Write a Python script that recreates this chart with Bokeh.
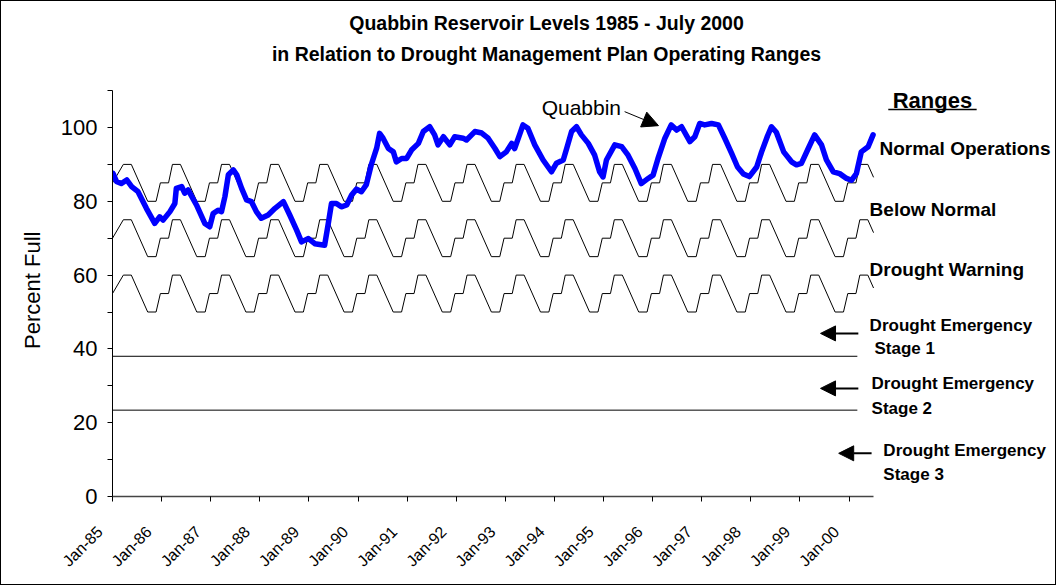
import math
from bokeh.plotting import figure
from bokeh.models import Range1d, FixedTicker, Label, Arrow, NormalHead, LinearAxis
from bokeh.embed import file_html
from bokeh.resources import INLINE

FONT = "Liberation Sans"

TITLE_LINES = ["Quabbin Reservoir Levels 1985 - July 2000",
               "in Relation to Drought Management Plan Operating Ranges"]
Y_AXIS_TITLE = "Percent Full"
YEARS = list(range(1985, 2001))
X_TICK_LABELS = ["Jan-85", "Jan-86", "Jan-87", "Jan-88", "Jan-89", "Jan-90", "Jan-91", "Jan-92",
                 "Jan-93", "Jan-94", "Jan-95", "Jan-96", "Jan-97", "Jan-98", "Jan-99", "Jan-00"]
Y_LABEL_TICKS = [0, 20, 40, 60, 80, 100]
Y_MINOR_TICKS = [10, 30, 50, 70, 90, 110]

# Quabbin reservoir level (% full) (decimal year, value)
QUABBIN_T = [1985.01, 1985.08, 1985.18, 1985.29, 1985.39, 1985.52, 1985.69, 1985.86, 1985.96,
             1986.03, 1986.17, 1986.27, 1986.30, 1986.41, 1986.47, 1986.54, 1986.71, 1986.88, 1986.98,
             1987.05, 1987.15, 1987.22, 1987.29, 1987.36, 1987.46, 1987.53, 1987.63, 1987.73, 1987.83, 1987.93,
             1988.03, 1988.17, 1988.31, 1988.48, 1988.61, 1988.75, 1988.85, 1988.99,
             1989.12, 1989.32, 1989.39, 1989.46, 1989.56, 1989.66, 1989.77, 1989.87, 1989.97,
             1990.07, 1990.17, 1990.27, 1990.38, 1990.44, 1990.51, 1990.62, 1990.72, 1990.78, 1990.89, 1990.99,
             1991.09, 1991.23, 1991.33, 1991.46, 1991.56, 1991.63, 1991.74, 1991.87, 1991.97,
             1992.14, 1992.21, 1992.38, 1992.52, 1992.65, 1992.79, 1992.89,
             1993.02, 1993.13, 1993.19, 1993.30, 1993.36, 1993.46, 1993.60, 1993.77, 1993.94,
             1994.04, 1994.18, 1994.25, 1994.35, 1994.45, 1994.55, 1994.69, 1994.82, 1994.92, 1994.99,
             1995.06, 1995.23, 1995.37, 1995.50, 1995.64, 1995.77, 1995.91,
             1996.01, 1996.11, 1996.25, 1996.38, 1996.49, 1996.59, 1996.76, 1996.86, 1996.96,
             1997.06, 1997.20, 1997.34, 1997.47, 1997.61, 1997.73, 1997.85, 1997.97,
             1998.12, 1998.22, 1998.34, 1998.42, 1998.52, 1998.67, 1998.83, 1998.93,
             1999.03, 1999.17, 1999.30, 1999.44, 1999.54, 1999.68, 1999.81, 1999.95,
             2000.05, 2000.15, 2000.25, 2000.39, 2000.49]
QUABBIN_PCT = [87.6, 85.4, 84.8, 85.8, 84.0, 82.6, 78.1, 74.0, 75.8,
               74.9, 77.2, 79.4, 83.5, 84.0, 82.2, 83.1, 79.0, 74.0, 73.1,
               76.7, 77.6, 77.2, 81.3, 87.2, 88.5, 87.2, 83.5, 80.4, 79.9, 77.2,
               75.4, 76.3, 78.1, 79.9, 76.3, 72.2, 69.0, 69.9,
               68.5, 68.1, 73.6, 79.4, 79.4, 78.5, 79.0, 81.7, 83.3,
               82.6, 84.5, 89.9, 94.4, 98.4, 97.1, 94.3, 93.4, 90.7, 91.6, 91.6,
               93.9, 95.7, 98.9, 100.2, 98.0, 95.3, 97.5, 95.3, 97.5,
               97.1, 96.6, 98.9, 98.5, 97.1, 94.3, 92.1,
               93.4, 95.7, 94.3, 98.4, 100.7, 99.8, 95.3, 91.2, 88.0,
               90.3, 91.2, 94.3, 98.9, 100.2, 98.0, 95.7, 92.5, 88.0, 86.6,
               91.2, 95.3, 94.8, 92.5, 88.9, 84.8, 86.2,
               87.1, 91.6, 97.1, 100.7, 99.3, 100.2, 96.2, 97.5, 101.1,
               100.7, 101.1, 100.7, 97.1, 93.0, 89.3, 87.4, 86.7,
               89.3, 93.4, 97.7, 100.2, 98.7, 93.4, 90.7, 89.9,
               90.3, 94.3, 98.0, 95.3, 91.2, 88.0, 87.5, 86.2,
               85.7, 87.5, 93.4, 94.8, 98.0]

# Drought Management Plan: yearly pattern of the Normal Operations boundary
DMP_MONTHS = [1.7, 2.65, 4.6, 8.6, 10.65, 11.7]
DMP_LEVELS = [85, 90, 90, 80, 80, 85]
DMP_START = 85      # level at Jan-85
DMP_END = 86.5      # level at Jul-00
DMP_LAST = 2000.5
BAND_OFFSETS = [0, -15, -30]   # Normal / Below Normal / Drought Warning boundaries
STAGE_LEVELS = [38, 23.4]      # Drought Emergency stage boundaries
STAGE_LINE_END = 2000.17

# zig-zag boundary series built from the yearly pattern
zx = [1985.0]
zy = [DMP_START]
for yr in YEARS:
    for m, lv in zip(DMP_MONTHS, DMP_LEVELS):
        if yr == 1985 and m < 2:
            continue
        t = yr + m / 12.0
        if t >= DMP_LAST:
            break
        zx.append(t)
        zy.append(lv)
zx.append(DMP_LAST)
zy.append(DMP_END)

W, H = 1056, 585
LEFT, BOTTOM = 111, 90
PX_YEAR, PX_UNIT = 49.1, 3.69
X0 = 1985.0
X1 = X0 + (W - LEFT) / PX_YEAR
Y1 = (H - BOTTOM) / PX_UNIT
PAD = "\u00a0" * 4          # pushes the rotated tick labels down-left of their ticks
Y_TITLE_END = 71.8          # where the rotated y axis title ends (data units)

p = figure(width=W, height=H, x_range=Range1d(X0, X1), y_range=Range1d(0, Y1),
           output_backend="svg", toolbar_location=None, title=None,
           min_border_left=LEFT, min_border_right=0, min_border_top=0, min_border_bottom=BOTTOM)
p.outline_line_color = None
p.grid.visible = False
p.background_fill_color = "white"
p.border_fill_color = "white"
p.styles = {"border": "1px solid black", "box-sizing": "border-box"}

# x axis
xa = p.xaxis[0]
xa.ticker = FixedTicker(ticks=YEARS)
xa.major_label_overrides = {y: lab + PAD for y, lab in zip(YEARS, X_TICK_LABELS)}
xa.bounds = (1985, 2000.5)
xa.major_label_orientation = math.pi / 4
xa.major_tick_in = 0
xa.major_tick_out = 5
xa.minor_tick_out = 0
xa.minor_tick_in = 0
xa.major_label_standoff = 15
xa.major_label_text_font = FONT
xa.major_label_text_font_size = "16px"
xa.major_label_text_color = "black"
xa.axis_line_color = "#444444"
xa.axis_line_width = 1.5
xa.major_tick_line_color = "black"

# y axis
ya = p.yaxis[0]
ya.ticker = FixedTicker(ticks=Y_LABEL_TICKS, minor_ticks=Y_MINOR_TICKS)
ya.bounds = (0, 110)
ya.major_tick_in = 0
ya.major_tick_out = 5
ya.minor_tick_in = 0
ya.minor_tick_out = 5
ya.major_label_standoff = 10
ya.major_label_text_font = FONT
ya.major_label_text_font_size = "22px"
ya.major_label_text_color = "black"
ya.axis_line_color = "black"
ya.major_tick_line_color = "black"
ya.minor_tick_line_color = "black"

# y axis title, drawn as the single label of an outer axis so it can sit off-centre
yt = LinearAxis(ticker=FixedTicker(ticks=[Y_TITLE_END]),
                major_label_overrides={Y_TITLE_END: Y_AXIS_TITLE})
yt.axis_line_color = None
yt.major_tick_line_color = None
yt.minor_tick_line_color = None
yt.major_tick_in = 0
yt.major_tick_out = 0
yt.minor_tick_in = 0
yt.minor_tick_out = 0
yt.major_label_orientation = math.pi / 2
yt.major_label_standoff = 25
yt.major_label_text_font = FONT
yt.major_label_text_font_size = "22px"
yt.major_label_text_color = "black"
p.add_layout(yt, "left")

# DMP operating range boundaries
for off in BAND_OFFSETS:
    p.line(zx, [v + off for v in zy], line_color="black", line_width=1)

# drought emergency stage lines
p.segment(x0=[1985] * len(STAGE_LEVELS), x1=[STAGE_LINE_END] * len(STAGE_LEVELS),
          y0=STAGE_LEVELS, y1=STAGE_LEVELS, line_color="black", line_width=1)

# Quabbin level
p.line(QUABBIN_T, QUABBIN_PCT, line_color="#0000ff", line_width=5.5, line_join="round", line_cap="round")

def lab(text, x, y, size, bold=True, align="left"):
    p.add_layout(Label(x=x, y=y, text=text, text_font=FONT, text_font_size=size,
                       text_font_style="bold" if bold else "normal", text_color="black",
                       text_align=align, text_baseline="middle"))

# title
lab(TITLE_LINES[0], 1993.84, 128.2, "19.5px", align="center")
lab(TITLE_LINES[1], 1993.84, 119.8, "19.5px", align="center")

# right-hand range labels
lab("Ranges", 2001.70, 107.3, "22px", align="center")
p.segment(x0=[2000.80], x1=[2002.60], y0=[104.9], y1=[104.9], line_color="black", line_width=1.5)
lab("Normal Operations", 2000.62, 94.3, "19px")
lab("Below Normal", 2000.42, 77.8, "19px")
lab("Drought Warning", 2000.42, 61.5, "19px")
lab("Drought Emergency", 2000.42, 46.3, "17px")
lab("Stage 1", 2000.52, 40.1, "17px")
lab("Drought Emergency", 2000.46, 30.6, "17px")
lab("Stage 2", 2000.46, 23.8, "17px")
lab("Drought Emergency", 2000.70, 12.5, "17px")
lab("Stage 3", 2000.70, 6.0, "17px")

# Quabbin label and arrow
lab("Quabbin", 1993.74, 105.4, "21px", bold=False)
p.add_layout(Arrow(x_start=1995.43, y_start=104.3, x_end=1996.12, y_end=100.5, line_width=1,
                   end=NormalHead(size=16, fill_color="black", line_color="black")))

# stage arrows
for xs, xe, yv in [(2000.19, 1999.42, 44.2), (2000.19, 1999.42, 29.3), (2000.46, 1999.79, 11.7)]:
    p.add_layout(Arrow(x_start=xs, y_start=yv, x_end=xe, y_end=yv, line_width=2,
                       end=NormalHead(size=15, fill_color="black", line_color="black")))

open("out.html", "w").write(file_html(p, INLINE))
